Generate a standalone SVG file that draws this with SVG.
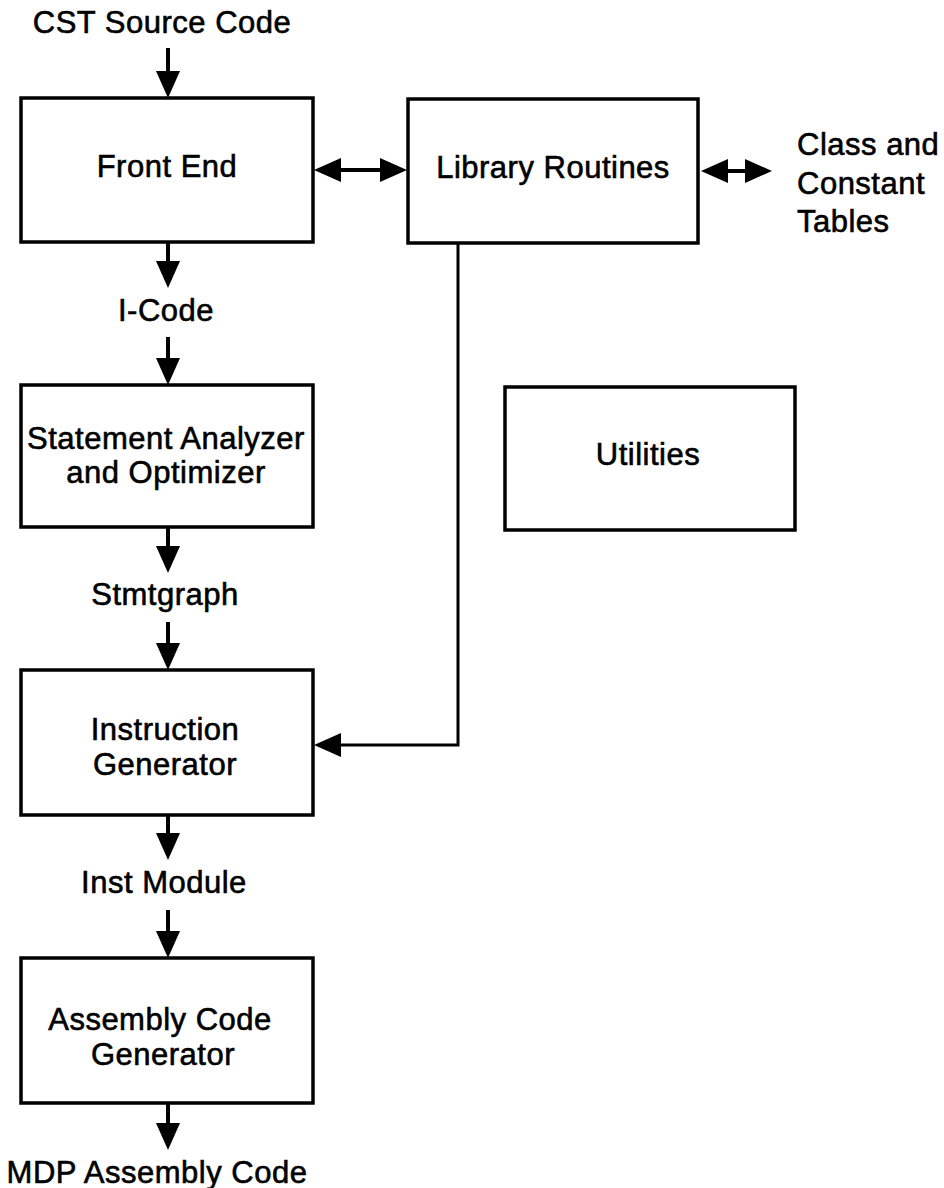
<svg xmlns="http://www.w3.org/2000/svg" width="944" height="1188" viewBox="0 0 944 1188">
<style>
  .box { fill: #fff; stroke: #000; stroke-width: 3.5; }
  .t { font-family: "Liberation Sans", Arial, Helvetica, sans-serif; font-size: 31px; letter-spacing: 0.5px; fill: #000; stroke: #000; stroke-width: 0.6px; }
  .c { text-anchor: middle; }
  .ln { fill: none; stroke: #000; stroke-width: 4; }
  .fb { fill: none; stroke: #000; stroke-width: 3; }
</style>
<defs>
  <marker id="ah" markerUnits="userSpaceOnUse" markerWidth="28" markerHeight="24" viewBox="0 0 28 24" refX="1" refY="12" orient="auto-start-reverse">
    <path d="M0,0 L27,12 L0,24 Z" fill="#000"/>
  </marker>
</defs>
<rect width="944" height="1188" fill="#fff"/>

<g id="connectors">
  <path class="ln" d="M168,48 V72" marker-end="url(#ah)"/>
  <path class="ln" d="M168,242 V262" marker-end="url(#ah)"/>
  <path class="ln" d="M168,337 V359" marker-end="url(#ah)"/>
  <path class="ln" d="M168,527 V547" marker-end="url(#ah)"/>
  <path class="ln" d="M168,622 V644" marker-end="url(#ah)"/>
  <path class="ln" d="M168,815 V834" marker-end="url(#ah)"/>
  <path class="ln" d="M168,910 V932" marker-end="url(#ah)"/>
  <path class="ln" d="M168,1103 V1124" marker-end="url(#ah)"/>
  <path class="ln" d="M340,170 H381" marker-start="url(#ah)" marker-end="url(#ah)"/>
  <path class="ln" d="M727,171 H746" marker-start="url(#ah)" marker-end="url(#ah)"/>
  <path class="fb" d="M458,243 V745 H340" marker-end="url(#ah)"/>
</g>

<g id="label-cst"><text class="t c" x="162" y="33">CST Source Code</text></g>

<g id="front-end">
  <rect class="box" x="21" y="98" width="292" height="144"/>
  <text class="t c" x="167" y="177">Front End</text>
</g>

<g id="library-routines">
  <rect class="box" x="408" y="99" width="290" height="144"/>
  <text class="t c" x="553" y="178">Library Routines</text>
</g>

<g id="label-tables">
  <text class="t" x="797" y="155">Class and</text>
  <text class="t" x="797" y="194">Constant</text>
  <text class="t" x="797" y="232">Tables</text>
</g>

<g id="label-icode"><text class="t c" x="166" y="321">I-Code</text></g>

<g id="statement-analyzer">
  <rect class="box" x="21" y="385" width="292" height="142"/>
  <text class="t c" x="166" y="449">Statement Analyzer</text>
  <text class="t c" x="166" y="483">and Optimizer</text>
</g>

<g id="utilities">
  <rect class="box" x="505" y="387" width="290" height="143"/>
  <text class="t c" x="648" y="465">Utilities</text>
</g>

<g id="label-stmtgraph"><text class="t c" x="165" y="605">Stmtgraph</text></g>

<g id="instruction-generator">
  <rect class="box" x="21" y="670" width="292" height="145"/>
  <text class="t c" x="165" y="740">Instruction</text>
  <text class="t c" x="165" y="775">Generator</text>
</g>

<g id="label-inst-module"><text class="t c" x="164" y="893">Inst Module</text></g>

<g id="assembly-code-generator">
  <rect class="box" x="21" y="958" width="292" height="145"/>
  <text class="t c" x="160" y="1030">Assembly Code</text>
  <text class="t c" x="163" y="1065">Generator</text>
</g>

<g id="label-mdp"><text class="t c" x="157" y="1183">MDP Assembly Code</text></g>
</svg>
